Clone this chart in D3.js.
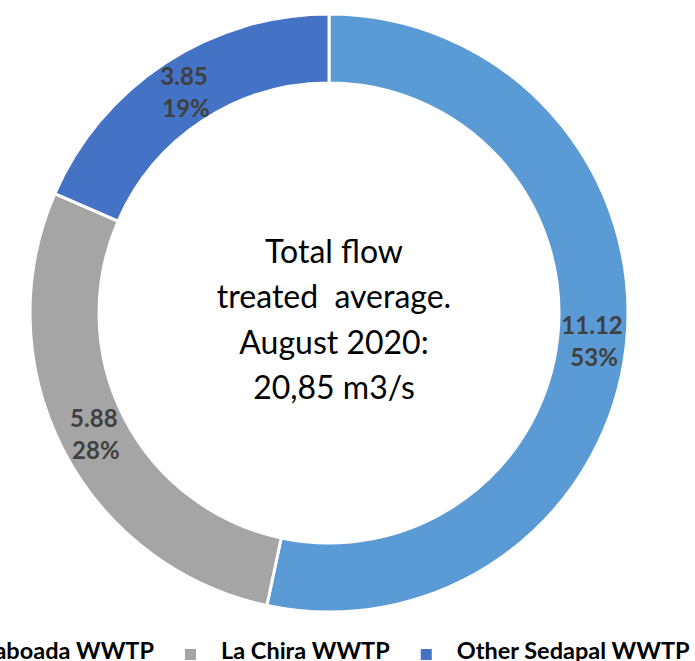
<!DOCTYPE html>
<html>
<head>
<meta charset="utf-8">
<script src="https://cdn.jsdelivr.net/npm/d3@7.9.0/dist/d3.min.js"></script>
<style>
  html, body { margin: 0; padding: 0; background: #fff; overflow: hidden; }
  svg { display: block; font-family: Lato, "Open Sans", sans-serif; }
</style>
</head>
<body>
<div id="chart"></div>
<script>
// data
const plants = ["Taboada WWTP", "La Chira WWTP", "Other Sedapal WWTP"];
const flows = [11.12, 5.88, 3.85];
const percents = ["53%", "28%", "19%"];
const colors = ["#5B9BD5", "#A5A5A5", "#4472C4"];
const centerLines = ["Total flow", "treated  average.", "August 2020:", "20,85 m3/s"];

const width = 695, height = 661;
const cx = 329, cy = 313;
const outerR = 299, innerR = 230;

const svg = d3.select("#chart")
  .append("svg")
    .attr("width", width)
    .attr("height", height);

const g = svg.append("g")
  .attr("transform", `translate(${cx},${cy})`);

const pie = d3.pie().sort(null).value(d => d.value);
const arc = d3.arc().innerRadius(innerR).outerRadius(outerR);

const slices = pie(plants.map((name, i) => ({ name, value: flows[i], pct: percents[i], color: colors[i] })));

g.selectAll("path.slice")
  .data(slices)
  .join("path")
    .attr("class", "slice")
    .attr("d", arc)
    .attr("fill", d => d.data.color)
    .attr("stroke", "#fff")
    .attr("stroke-width", 3);

// value + percent labels at each slice centroid
const labels = g.selectAll("text.lbl")
  .data(slices)
  .join("text")
    .attr("class", "lbl")
    .attr("transform", d => `translate(${arc.centroid(d)})`)
    .attr("text-anchor", "middle")
    .style("font-size", "24px")
    .style("font-weight", "bold")
    .attr("fill", "#404040");

labels.append("tspan")
  .attr("x", 0)
  .attr("y", -7)
  .text(d => d.data.value.toFixed(2));

labels.append("tspan")
  .attr("x", 2)
  .attr("y", 25)
  .text(d => d.data.pct);

// center text
const center = svg.append("text")
  .attr("text-anchor", "middle")
  .style("font-size", "32px")
  .style("white-space", "pre")
  .attr("fill", "#000");

centerLines.forEach((line, i) => {
  center.append("tspan")
    .attr("x", 334)
    .attr("y", 263 + i * 45.3)
    .text(line);
});

// legend (first item runs off the left edge)
const legend = svg.append("g")
  .attr("class", "legend")
  .style("font-size", "23.5px")
  .style("font-weight", "bold");

const items = legend.selectAll("g.item")
  .data(plants)
  .join("g")
    .attr("class", "item");

items.append("text")
  .attr("y", 659)
  .attr("fill", "#000")
  .text(d => d);

const widths = [];
items.select("text").each(function () { widths.push(this.getComputedTextLength()); });

// La Chira marker sits at x=185, place others around it
const markerToText = 36, textToMarker = 31;
const markerX = [];
markerX[1] = 185;
markerX[0] = markerX[1] - textToMarker - widths[0] - markerToText;
markerX[2] = markerX[1] + markerToText + widths[1] + textToMarker;

items.attr("transform", (d, i) => `translate(${markerX[i]},0)`);

items.insert("rect", "text")
  .attr("x", 0)
  .attr("y", 649)
  .attr("width", 11)
  .attr("height", 11)
  .attr("fill", (d, i) => colors[i]);

items.select("text").attr("x", markerToText);
</script>
</body>
</html>
